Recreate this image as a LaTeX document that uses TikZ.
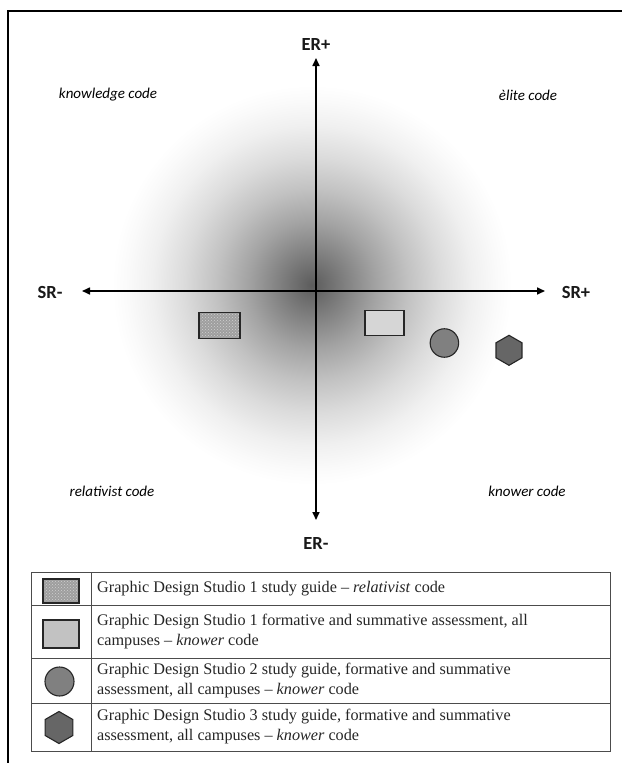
\documentclass[tikz,border=0pt]{standalone}
\usepackage{fontspec}
\setmainfont{Liberation Serif}
\newfontfamily\carlito{Carlito}
\usetikzlibrary{arrows.meta,patterns,shapes.geometric}
\pgfdeclareradialshading{glow}{\pgfpoint{0bp}{0bp}}{color(0bp)=(black!64); color(4bp)=(black!50); color(8bp)=(black!36); color(12bp)=(black!24); color(16bp)=(black!14); color(20bp)=(black!6); color(23bp)=(black!2); color(25bp)=(white); color(50bp)=(white)}
\tikzset{
  axis/.style={line width=1.6pt,{Triangle[length=8pt,width=7pt]}-{Triangle[length=8pt,width=7pt]}},
  axlabel/.style={font=\carlito\bfseries\fontsize{18.5}{20}\selectfont,text=black!90},
  codelabel/.style={font=\carlito\itshape\fontsize{15}{18}\selectfont},
  texbox/.style={draw=black!85,line width=1.1pt,preaction={fill=black!38},pattern=crosshatch dots,pattern color=black!18,inner sep=0pt},
  lightbox/.style={draw=black!85,line width=1.1pt,fill=black!16,inner sep=0pt},
  disc/.style={circle,draw=black!85,line width=1.1pt,fill=black!50,inner sep=0pt},
  hexa/.style={regular polygon,regular polygon sides=6,shape border rotate=30,draw=black!85,line width=1.1pt,fill=black!60,inner sep=0pt},
  legtext/.style={anchor=west,align=left,inner sep=0pt,font=\fontsize{16.2}{20}\selectfont,text=black!85},
  grid/.style={draw=black!70,line width=0.8pt}
}
\begin{document}
\begin{tikzpicture}[x=1pt,y=-1pt]
\useasboundingbox (0,0) rectangle (622,763);
\fill[white] (0,0) rectangle (622,763);
% frame
\draw[line width=1.8pt] (8,763) -- (8,11) -- (622,11);
% gradient
\shade[shading=glow] (312,285) circle[radius=200];
% axes
\coordinate (top) at (316,58);
\coordinate (bot) at (316,520);
\coordinate (lft) at (82,291);
\coordinate (rgt) at (545,291);
\draw[axis] (bot) -- (top);
\draw[axis] (lft) -- (rgt);
\node[axlabel] (erp) at (316,45) {ER+};
\node[axlabel] (erm) at (316,543) {ER-};
\node[axlabel] (srm) at (50,292) {SR-};
\node[axlabel] (srp) at (576,292) {SR+};
% quadrant labels
\node[codelabel] (kc) at (108,95) {knowledge code};
\node[codelabel] (ec) at (528,95) {èlite code};
\node[codelabel] (rc) at (112,491) {relativist code};
\node[codelabel] (knc) at (527,491) {knower code};
% plotted shapes
\node[texbox,minimum width=41pt,minimum height=26pt] (s1) at (219.5,325.5) {};
\node[lightbox,minimum width=39pt,minimum height=25pt] (s2) at (384.5,323) {};
\node[disc,minimum size=28.5pt] (s3) at (444.4,343) {};
\node[hexa,minimum size=30pt] (s4) at (509,350.3) {};
% legend table
\draw[grid] (31,572) rectangle (610,751);
\draw[grid] (91,572) -- (91,751);
\draw[grid] (31,605) -- (610,605);
\draw[grid] (31,658) -- (610,658);
\draw[grid] (31,703) -- (610,703);
\node[texbox,minimum width=36pt,minimum height=24pt] (l1) at (61,591) {};
\node[lightbox,fill=black!24,minimum width=36pt,minimum height=28pt] (l2) at (61,634) {};
\node[disc,minimum size=29pt] (l3) at (59.5,681.5) {};
\node[hexa,minimum size=32pt] (l4) at (59,727.5) {};
\node[legtext] (t1) at (97,589) {Graphic Design Studio 1 study guide -- \textit{relativist} code};
\node[legtext] (t2) at (97,632) {Graphic Design Studio 1 formative and summative assessment, all\\campuses -- \textit{knower} code};
\node[legtext] (t3) at (97,681) {Graphic Design Studio 2 study guide, formative and summative\\assessment, all campuses -- \textit{knower} code};
\node[legtext] (t4) at (97,727) {Graphic Design Studio 3 study guide, formative and summative\\assessment, all campuses -- \textit{knower} code};
\end{tikzpicture}
\end{document}
